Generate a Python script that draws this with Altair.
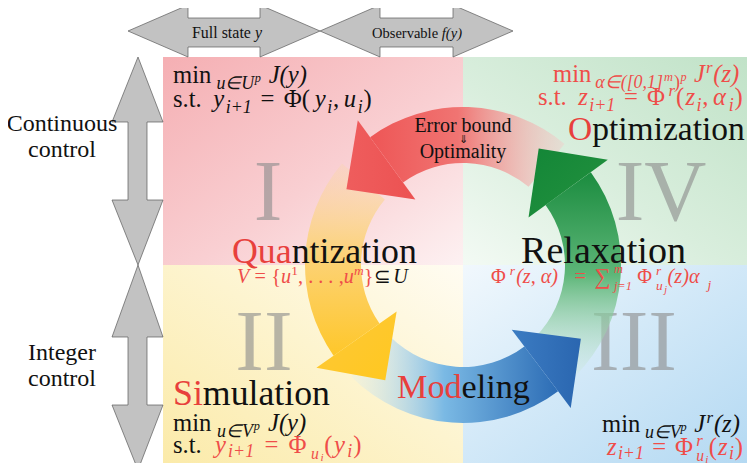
import math
import altair as alt
import pandas as pd

# ---------------- frame (reference pixel frame) ----------------
X_DOMAIN = [8, 747]
Y_DOMAIN = [8, 463]
W, H = 739, 455
FONT = "Liberation Serif"

xs = alt.Scale(domain=X_DOMAIN, nice=False, zero=False)
ys = alt.Scale(domain=Y_DOMAIN, nice=False, zero=False, reverse=True)


def X(f):
    return alt.X(f, type="quantitative", scale=xs, axis=None)


def Y(f):
    return alt.Y(f, type="quantitative", scale=ys, axis=None)


# ---------------- data ----------------
# quadrants: I (top-left), II (bottom-left), III (bottom-right), IV (top-right)
quad_x0 = [163, 163, 463, 463]
quad_x1 = [463, 463, 755, 755]
quad_y0 = [57, 265, 265, 57]
quad_y1 = [265, 471, 471, 265]

# cycle ring
ring_cx, ring_cy = 463, 265
ring_r_in, ring_r_out = 102, 158
head_r_in, head_r_out, head_r_tip = 81, 179, 139
head_len_deg = 21
arrow_names = ["red", "yellow", "blue", "green"]
arrow_head_deg = [-36, -125, 143, 54]
arrow_tail_deg = [40, -50, 225, 135]

# gray double arrows (outline polygons)
top_arrow_y = [31, 5, 18, 18, 5, 31, 57, 47, 47, 57]
top_arrow_x = [[128, 188, 188, 260, 260, 320, 260, 260, 188, 188],
               [320, 380, 380, 453, 453, 513, 453, 453, 380, 380]]
side_arrow_x = [138, 163, 147, 147, 163, 138, 112, 128, 128, 112]
side_arrow_y = [[57, 122, 122, 200, 200, 265, 200, 200, 122, 122],
                [265, 337, 337, 405, 405, 470, 405, 405, 337, 337]]

K = "#111111"
R = "#e8403c"
M = "#ef4d49"
G = "rgba(140,140,140,0.62)"

# ---- text lines: (x start, x end, baseline, runs) ----
# run = (text, style n/i, size, dy, colour[, advance])
lines = [
    (192, 262, 38, [("Full state", "n", 16, 0, K), (" ", "n", 16, 0, K), ("y", "i", 16, 0, K)]),
    (372, 462, 38, [("Observable", "n", 16, 0, K), (" ", "n", 16, 0, K), ("f(y)", "i", 16, 0, K)]),
    # quadrant I
    (173, 312, 83, [("min", "n", 22, 0, K), ("u∈U", "i", 16, 5, K), ("p", "i", 11, -1, K),
                    (" ", "n", 22, 0, K), ("J(y)", "i", 22, 0, K)]),
    (173, 373, 107, [("s.t.", "n", 22, 0, K), (" ", "n", 22, 0, K), ("y", "i", 22, 0, K),
                     ("i+1", "i", 16, 5, K), (" ", "n", 22, 0, K), ("=", "n", 22, 0, K),
                     (" ", "n", 22, 0, K), ("Φ(", "n", 22, 0, K), ("y", "i", 22, 0, K),
                     ("i", "i", 16, 5, K), (",", "n", 22, 0, K), (" ", "n", 11, 0, K),
                     ("u", "i", 22, 0, K), ("i", "i", 16, 5, K), (")", "n", 22, 0, K)]),
    # quadrant IV
    (553, 742, 82, [("min", "n", 22, 0, M), ("α∈([0,1]", "i", 16, 5, M), ("m", "i", 11, -1, M),
                    (")", "n", 16, 5, M), ("p", "i", 11, -1, M), (" ", "n", 22, 0, M),
                    ("J", "i", 22, 0, M), ("r", "i", 15, -8, M), ("(z)", "i", 22, 0, M)]),
    (538, 744, 105, [("s.t.", "n", 22, 0, M), (" ", "n", 22, 0, M), ("z", "i", 22, 0, M),
                     ("i+1", "i", 16, 5, M), (" ", "n", 22, 0, M), ("=", "n", 22, 0, M),
                     (" ", "n", 22, 0, M), ("Φ", "n", 22, 0, M), ("r", "i", 15, -8, M),
                     ("(", "n", 22, 0, M), ("z", "i", 22, 0, M), ("i", "i", 16, 5, M),
                     (",", "n", 22, 0, M), (" ", "n", 11, 0, M), ("α", "i", 22, 0, M),
                     ("i", "i", 16, 5, M), (")", "n", 22, 0, M)]),
    (568, 745, 140, [("O", "n", 34, 0, R), ("ptimization", "n", 34, 0, K)]),
    # quantization
    (232, 417, 263, [("Qua", "n", 34, 0, R), ("ntization", "n", 34, 0, K)]),
    (237, 408, 283, [("V", "i", 18, 0, M), (" ", "n", 18, 0, M), ("=", "n", 18, 0, M),
                     (" ", "n", 18, 0, M), ("{", "n", 18, 0, M), ("u", "i", 18, 0, M),
                     ("1", "n", 12, -7, M), (",", "n", 18, 0, M), (" ", "n", 18, 0, M),
                     (". . .", "n", 18, 0, M), (" ", "n", 18, 0, M), (",", "n", 18, 0, M),
                     ("u", "i", 18, 0, M), ("m", "i", 12, -7, M), ("}", "n", 18, 0, M),
                     ("⊆", "n", 18, 0, K), (" ", "n", 18, 0, K), ("U", "i", 18, 0, K)]),
    # relaxation
    (521, 700, 263, [("Relaxation", "n", 34, 0, K)]),
    (491, 712, 283, [("Φ", "n", 18, 0, M), ("r", "i", 12, -7, M), ("(z, α)", "i", 18, 0, M),
                     (" ", "n", 18, 0, M), ("=", "n", 18, 0, M), (" ", "n", 18, 0, M),
                     ("∑", "n", 20, 1, M), ("m", "i", 11, -9, M, 0), ("j=1", "i", 11, 6, M),
                     (" ", "n", 9, 0, M), ("Φ", "n", 18, 0, M), ("r", "i", 12, -7, M, 0),
                     ("u", "i", 12, 6, M), ("j", "i", 9, 9, M), ("(z)α", "i", 18, 0, M),
                     ("j", "i", 12, 5, M)]),
    # simulation
    (173, 330, 405, [("Si", "n", 34, 0, R), ("mulation", "n", 34, 0, K)]),
    (173, 312, 431, [("min", "n", 22, 0, K), ("u∈V", "i", 16, 5, K), ("p", "i", 11, -1, K),
                     (" ", "n", 22, 0, K), ("J(y)", "i", 22, 0, K)]),
    (173, 363, 453, [("s.t.", "n", 22, 0, K), (" ", "n", 22, 0, K), ("y", "i", 22, 0, M),
                     ("i+1", "i", 16, 4, M), (" ", "n", 22, 0, M), ("=", "n", 22, 0, M),
                     (" ", "n", 22, 0, M), ("Φ", "n", 22, 0, M), ("u", "i", 14, 5, M),
                     ("i", "i", 10, 7, M), ("(", "n", 22, 0, M), ("y", "i", 22, 0, M),
                     ("i", "i", 16, 4, M), (")", "n", 22, 0, M)]),
    # modeling
    (397, 530, 398, [("Mod", "n", 34, 0, R), ("eling", "n", 34, 0, K)]),
    # quadrant III
    (602, 743, 432, [("min", "n", 22, 0, K), ("u∈V", "i", 16, 5, K), ("p", "i", 11, -1, K),
                     (" ", "n", 22, 0, K), ("J", "i", 22, 0, K), ("r", "i", 15, -8, K),
                     ("(z)", "i", 22, 0, K)]),
    (607, 744, 455, [("z", "i", 22, 0, M), ("i+1", "i", 16, 4, M), (" ", "n", 22, 0, M),
                     ("=", "n", 22, 0, M), (" ", "n", 22, 0, M), ("Φ", "n", 22, 0, M),
                     ("r", "i", 15, -8, M, 0), ("u", "i", 14, 5, M), ("i", "i", 10, 7, M),
                     ("(", "n", 22, 0, M), ("z", "i", 22, 0, M), ("i", "i", 16, 4, M),
                     (")", "n", 22, 0, M)]),
]

# centred labels: text, x centre, baseline, size, colour
centred = [
    ("Continuous", 62, 131, 24, K),
    ("control", 62, 157, 24, K),
    ("Integer", 62, 360, 24, K),
    ("control", 62, 386, 24, K),
    ("Error bound", 463, 132, 20, K),
    ("⇓", 463, 143, 11, K),
    ("Optimality", 463, 158, 20, K),
]
roman_txt = ["I", "IV", "II", "III"]
roman_x = [268, 661, 264, 634]
roman_y = [220, 220, 370, 370]

# ---------------- approximate glyph advance widths (per 1000 em) ----------------
_lc = "abcdefghijklmnopqrstuvwxyz"
_uc = "ABCDEFGHIJKLMNOPQRSTUVWXYZ"
REG = dict(zip(_lc, [444, 500, 444, 500, 444, 333, 500, 500, 278, 278, 500, 278, 778,
                     500, 500, 500, 500, 333, 389, 278, 500, 500, 722, 500, 500, 444]))
REG.update(zip(_uc, [722, 667, 667, 722, 611, 556, 722, 722, 333, 389, 722, 611, 889,
                     722, 722, 556, 722, 667, 556, 611, 722, 722, 944, 722, 722, 611]))
REG.update({" ": 250, "(": 333, ")": 333, ",": 250, ".": 250, "=": 564, "+": 564,
            "{": 480, "}": 480, "[": 333, "]": 333, "Φ": 760, "α": 560, "∈": 670,
            "∑": 710, "⊆": 713, "⇓": 600})
REG.update({d: 500 for d in "0123456789"})
ITA = dict(REG)
ITA.update(zip(_lc, [500, 500, 444, 500, 444, 278, 500, 500, 278, 278, 444, 278, 722,
                     500, 500, 500, 500, 389, 389, 278, 500, 444, 667, 444, 444, 389]))
ITA.update({"J": 444, "V": 611})


def run_width(text, style, size):
    tbl = ITA if style == "i" else REG
    return sum(tbl.get(c, 550) for c in text) * size / 1000.0


rows = []
for x0, x1, base, runs in lines:
    natural = sum(run_width(r[0], r[1], r[2]) * (r[5] if len(r) > 5 else 1) for r in runs)
    f = (x1 - x0) / natural
    fs = min(max(f, 0.75), 1.12)
    spread = (x1 - x0) / (natural * fs)
    cum = 0.0
    for r in runs:
        text, sty, size, dy, col = r[:5]
        adv = r[5] if len(r) > 5 else 1
        if text.strip():
            rows.append({"txt": text, "px": x0 + cum * spread, "py": base + dy * fs,
                         "fs": size * fs, "col": col, "sty": sty, "al": "left"})
        cum += run_width(text, sty, size) * fs * adv
for t, x, y, s, c in centred:
    rows.append({"txt": t, "px": x, "py": y, "fs": s, "col": c, "sty": "n", "al": "center"})
tdf = pd.DataFrame(rows)

# ---------------- styles ----------------
def lin(x1, y1, x2, y2, stops):
    return {"gradient": "linear", "x1": x1, "y1": y1, "x2": x2, "y2": y2,
            "stops": [{"offset": o, "color": c} for o, c in stops]}


quad_fill = [
    lin(0, 0, 1, 1, [(0, "#f5afb3"), (0.55, "#f9cfd2"), (1, "#fdf1f2")]),
    lin(0, 1, 1, 0, [(0, "#fbeaa8"), (0.55, "#fdf4cf"), (1, "#fffcf2")]),
    lin(1, 1, 0, 0, [(0, "#b2d8f2"), (0.55, "#d3e9f8"), (1, "#f1f8fd")]),
    lin(1, 0, 0, 1, [(0, "#c0e2c7"), (0.55, "#d9eedd"), (1, "#f3faf4")]),
]
body_fill = [
    lin(0, 0, 1, 0, [(0, "#ee5656"), (0.45, "#f07472"), (1, "rgba(246,196,196,0.35)")]),
    lin(0, 0, 0, 1, [(0, "rgba(250,214,160,0.25)"), (0.45, "#fcd37c"), (1, "#fec72a")]),
    lin(0, 0, 1, 0, [(0, "rgba(215,236,246,0.2)"), (0.45, "#7ab9e4"), (1, "#2c6cb5")]),
    lin(0, 0, 0, 1, [(0, "#1b8c3f"), (0.5, "#5db678"), (1, "rgba(205,233,214,0.2)")]),
]
head_fill = [
    lin(0, 0, 1, 0, [(0, "#ef5d5d"), (1, "#ec5252")]),
    lin(0, 0, 1, 1, [(0, "#fdc83a"), (1, "#ffc81f")]),
    lin(0, 0, 1, 0, [(0, "#3c7cc2"), (1, "#2a66b0")]),
    lin(0, 0, 1, 1, [(0, "#138637"), (1, "#24923f")]),
]


def polygon_layer(px, py, fill, stroke=None, sw=0.0):
    """Filled polygon drawn as a custom symbol anchored at its first vertex
    (symbol size 4 -> path units are pixels)."""
    ax, ay = px[0], py[0]
    path = "M " + " L ".join(f"{x - ax:.2f},{y - ay:.2f}" for x, y in zip(px, py)) + " Z"
    df = pd.DataFrame({"ax": [ax], "ay": [ay]})
    kw = dict(shape=path, size=4, filled=True, fill=fill, opacity=1, fillOpacity=1)
    if stroke:
        kw.update(stroke=stroke, strokeWidth=sw, strokeOpacity=1)
    else:
        kw.update(strokeWidth=0)
    return alt.Chart(df).mark_point(**kw).encode(x=X("ax"), y=Y("ay"))


# ---------------- layers ----------------
layers = []

for i in range(4):
    df = pd.DataFrame({"x0": [quad_x0[i]], "x1": [quad_x1[i]],
                       "y0": [quad_y0[i]], "y1": [quad_y1[i]]})
    layers.append(alt.Chart(df).mark_rect(color=quad_fill[i]).encode(
        x=X("x0"), x2="x1", y=Y("y0"), y2="y1"))

for xa in top_arrow_x:
    layers.append(polygon_layer(xa, top_arrow_y, "#c2c2c2", "#5a5a5a", 0.7))
for ya in side_arrow_y:
    layers.append(polygon_layer(side_arrow_x, ya, "#c2c2c2", "#5a5a5a", 0.7))

rdf = pd.DataFrame({"txt": roman_txt, "px": roman_x, "py": roman_y})
layers.append(alt.Chart(rdf).mark_text(
    align="center", baseline="alphabetic", font=FONT, fontSize=86, color=G).encode(
    x=X("px"), y=Y("py"), text="txt:N"))

for i in range(4):
    a, b = sorted([arrow_head_deg[i], arrow_tail_deg[i]])
    df = pd.DataFrame({"cx": [ring_cx], "cy": [ring_cy],
                       "t0": [math.radians(a)], "t1": [math.radians(b)],
                       "ri": [ring_r_in], "ro": [ring_r_out]})
    layers.append(alt.Chart(df).mark_arc(color=body_fill[i]).encode(
        x=X("cx"), y=Y("cy"),
        theta=alt.Theta("t0:Q", scale=None, stack=False), theta2="t1",
        radius=alt.Radius("ro:Q", scale=None), radius2="ri"))


def polar(deg, r):
    t = math.radians(deg)
    return (ring_cx + r * math.sin(t), ring_cy - r * math.cos(t))


for i in range(4):
    hb = arrow_head_deg[i]
    pts = [polar(hb, head_r_in), polar(hb, head_r_out), polar(hb - head_len_deg, head_r_tip)]
    layers.append(polygon_layer([p[0] for p in pts], [p[1] for p in pts], head_fill[i]))

for sty in ["n", "i"]:
    for al in ["left", "center"]:
        sub = tdf[(tdf["sty"] == sty) & (tdf["al"] == al)]
        if len(sub) == 0:
            continue
        layers.append(alt.Chart(sub).mark_text(
            align=al, baseline="alphabetic", font=FONT,
            fontStyle="italic" if sty == "i" else "normal").encode(
            x=X("px"), y=Y("py"), text="txt:N",
            size=alt.Size("fs:Q", scale=None),
            color=alt.Color("col:N", scale=None)))

chart = alt.layer(*layers).properties(
    width=W, height=H, padding=0,
    autosize=alt.AutoSizeParams(type="none"),
    background="white",
).configure_view(stroke=None)

chart.save("out.html", embed_options={"renderer": "svg", "actions": False})
